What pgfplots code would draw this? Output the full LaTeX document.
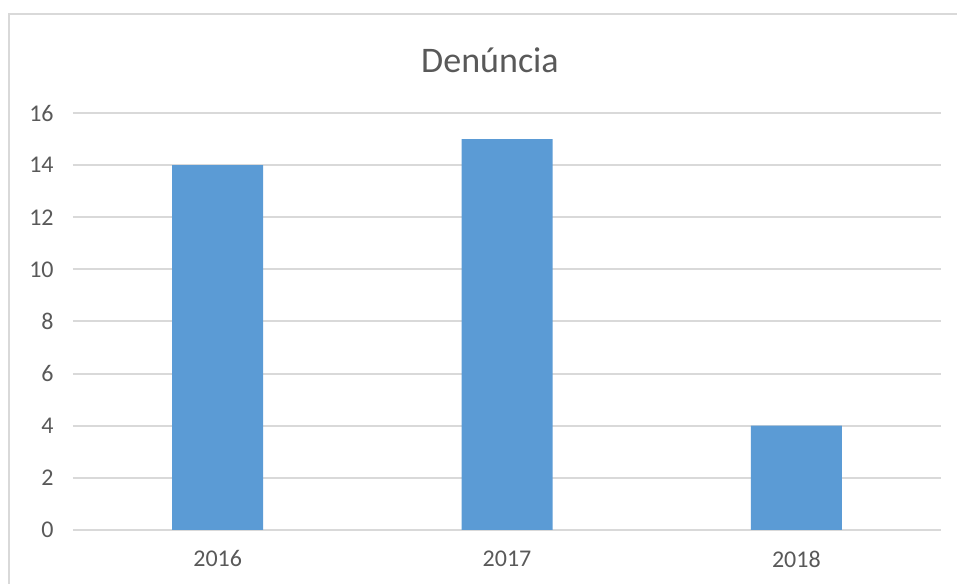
\documentclass[border=0pt]{standalone}
\usepackage{fontspec}
\setmainfont{Carlito}
\usepackage{pgfplots}
\pgfplotsset{compat=1.18}
\definecolor{barblue}{HTML}{5B9BD5}
\definecolor{txtgray}{HTML}{595959}
\definecolor{gridgray}{HTML}{D9D9D9}

\begin{document}
\begin{tikzpicture}
% 1 px of the reference = 0.75pt; axis box lower-left = pixel (73,530)
\useasboundingbox (-54.75pt,-40.5pt) rectangle (663pt,397.5pt);
\draw[gridgray, line width=1.5pt] (-48pt,-40.5pt) -- (-48pt,387pt) -- (663pt,387pt);
\begin{axis}[
  at={(0,0)}, anchor=south west,
  scale only axis,
  width=651pt, height=312.75pt,
  ybar, bar width=68.25pt, bar shift=0pt,
  xmin=-0.5, xmax=2.5,
  ymin=0, ymax=16,
  ytick={0,2,...,16},
  xtick=data,
  xticklabels={2016,2017,2018},
  ymajorgrids,
  grid style={gridgray, line width=1.5pt},
  axis line style={draw=none},
  major tick length=0pt,
  tick label style={font=\fontsize{18}{20}\selectfont, text=txtgray},
  yticklabel style={xshift=-11pt},
  xticklabel style={yshift=-12pt},
  /pgf/number format/assume math mode=true,
  clip=false,
]
\addplot[fill=barblue, draw=none] coordinates {(0,14) (1,15) (2,4)};
\end{axis}
\node[text=txtgray, font=\fontsize{27}{30}\selectfont] at (312.75pt,352.5pt) {Denúncia};
\end{tikzpicture}
\end{document}
